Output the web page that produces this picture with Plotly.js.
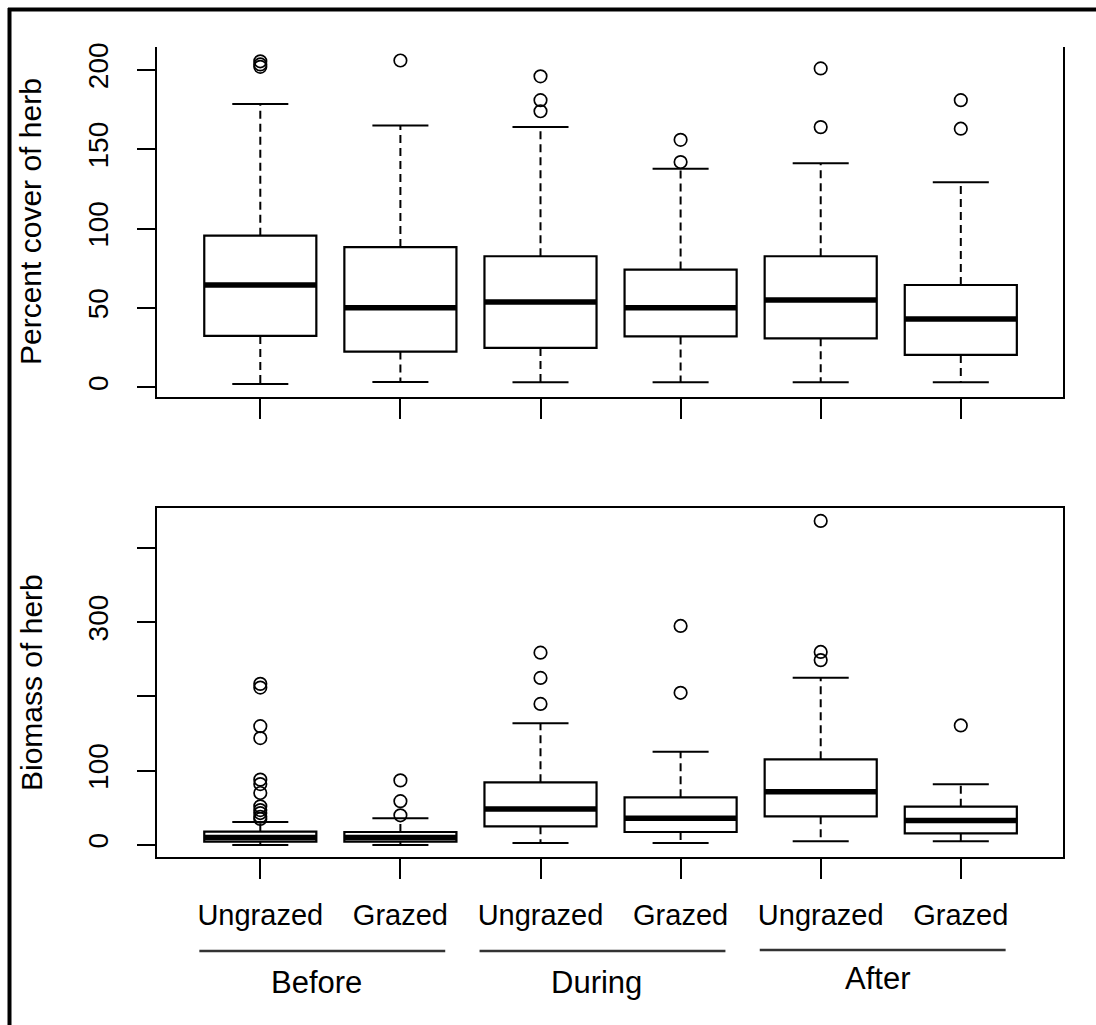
<!DOCTYPE html>
<html>
<head>
<meta charset="utf-8">
<script src="https://cdn.plot.ly/plotly-3.0.1.min.js"></script>
<style>
html, body { margin: 0; padding: 0; background: #ffffff; }
#chart { width: 1096px; height: 1025px; }
</style>
</head>
<body>
<div id="chart"></div>
<script>
// ---------- data ----------
const categories = ['Ungrazed', 'Grazed', 'Ungrazed', 'Grazed', 'Ungrazed', 'Grazed'];
const periods = ['Before', 'During', 'After'];
const positions = [1, 2, 3, 4, 5, 6];

// Percent cover of herb
const coverQ1 = [32.4, 22.5, 24.8, 32.1, 30.9, 20.4];
const coverMedian = [64.5, 50.2, 53.8, 50.2, 55.0, 43.1];
const coverQ3 = [95.6, 88.4, 82.6, 74.2, 82.6, 64.5];
const coverLower = [2.1, 3.4, 3.2, 3.2, 3.2, 3.2];
const coverUpper = [178.6, 165.1, 164.1, 137.8, 141.2, 129.2];
const coverOutliers = [[202, 203.5, 205.5], [206], [174, 181, 196], [142, 156], [164, 201], [163, 181]];

// Biomass of herb
const bioQ1 = [4.5, 4.5, 25.1, 17.5, 38.6, 15.7];
const bioMedian = [10, 10, 48.5, 35.9, 71.8, 32.8];
const bioQ3 = [18, 17.5, 84.4, 64.2, 115.4, 51.6];
const bioLower = [0, 0, 2.7, 2.7, 4.9, 4.9];
const bioUpper = [31, 36, 163.9, 125.7, 225.4, 81.7];
const bioOutliers = [[35, 38, 43, 47, 52, 70, 82, 88, 144, 160, 212, 217], [40, 59, 87], [190, 225, 259], [205, 295], [249, 260, 436.5], [161]];

const coverTicks = [0, 50, 100, 150, 200];
const coverTickText = ['0', '50', '100', '150', '200'];
const bioTicks = [0, 100, 200, 300, 400];
const bioTickText = ['0', '100', '', '300', ''];

// ---------- styling ----------
const W = 1096, H = 1025;
const FONT = 'Liberation Sans, Arial, sans-serif';
const BOX_W = 0.8, CAP_HALF = 0.2;

function boxTraces(q1, med, q3, lo, hi, outl, xa, ya) {
  const traces = [];
  const wx = [], wy = [];
  positions.forEach((p, i) => {
    wx.push(p, p, null, p, p, null);
    wy.push(q3[i], hi[i], null, q1[i], lo[i], null);
  });
  traces.push({type: 'scatter', mode: 'lines', x: wx, y: wy, xaxis: xa, yaxis: ya,
    line: {color: '#000', width: 2, dash: '8px,5px'}, hoverinfo: 'skip', showlegend: false});
  const cx = [], cy = [];
  positions.forEach((p, i) => {
    cx.push(p - CAP_HALF, p + CAP_HALF, null, p - CAP_HALF, p + CAP_HALF, null);
    cy.push(hi[i], hi[i], null, lo[i], lo[i], null);
  });
  traces.push({type: 'scatter', mode: 'lines', x: cx, y: cy, xaxis: xa, yaxis: ya,
    line: {color: '#000', width: 2}, hoverinfo: 'skip', showlegend: false});
  traces.push({type: 'box', x: positions, q1: q1, median: med, q3: q3,
    lowerfence: q1, upperfence: q3, xaxis: xa, yaxis: ya, width: BOX_W,
    boxpoints: false, fillcolor: 'rgba(255,255,255,0)', line: {color: '#000', width: 2.2},
    whiskerwidth: 0, showlegend: false});
  const mx = [], my = [];
  positions.forEach((p, i) => {
    mx.push(p - BOX_W / 2, p + BOX_W / 2, null);
    my.push(med[i], med[i], null);
  });
  traces.push({type: 'scatter', mode: 'lines', x: mx, y: my, xaxis: xa, yaxis: ya,
    line: {color: '#000', width: 5.5}, hoverinfo: 'skip', showlegend: false});
  const ox = [], oy = [];
  positions.forEach((p, i) => outl[i].forEach(v => { ox.push(p); oy.push(v); }));
  traces.push({type: 'scatter', mode: 'markers', x: ox, y: oy, xaxis: xa, yaxis: ya,
    marker: {symbol: 'circle-open', size: 12.5, color: '#000', line: {width: 1.7, color: '#000'}},
    hoverinfo: 'skip', showlegend: false});
  return traces;
}

const data = [].concat(
  boxTraces(coverQ1, coverMedian, coverQ3, coverLower, coverUpper, coverOutliers, 'x', 'y'),
  boxTraces(bioQ1, bioMedian, bioQ3, bioLower, bioUpper, bioOutliers, 'x2', 'y2')
);

const xRange = [0.2627, 6.7295];
const xDomain = [157 / W, 1063 / W];
const commonY = {
  showgrid: false, zeroline: false, showline: true, linecolor: '#000', linewidth: 2,
  ticks: 'outside', ticklen: 18, tickwidth: 2, tickcolor: '#000',
  tickangle: -90, tickfont: {family: FONT, size: 28, color: '#000'},
  ticklabelstandoff: 18, automargin: false, mirror: true
};

const shapes = [
  {type: 'line', xref: 'paper', yref: 'paper', x0: 8 / W, x1: 1, y0: 1 - 9.5 / H, y1: 1 - 9.5 / H, line: {color: '#000', width: 4}},
  {type: 'line', xref: 'paper', yref: 'paper', x0: 9.5 / W, x1: 9.5 / W, y0: 0, y1: 1 - 8 / H, line: {color: '#000', width: 4}}
];
const annotations = [
  {text: 'Percent cover of herb', xref: 'paper', yref: 'paper', x: 31 / W, y: 1 - 222 / H,
   textangle: -90, showarrow: false, xanchor: 'center', yanchor: 'middle', font: {family: FONT, size: 30, color: '#000'}},
  {text: 'Biomass of herb', xref: 'paper', yref: 'paper', x: 31 / W, y: 1 - 683 / H,
   textangle: -90, showarrow: false, xanchor: 'center', yanchor: 'middle', font: {family: FONT, size: 30, color: '#000'}}
];
const groupLineY = [951, 951, 950];
const groupLabelY = [982, 982, 978];
periods.forEach((name, g) => {
  const a = positions[2 * g] - 0.435, b = positions[2 * g + 1] + 0.32;
  shapes.push({type: 'line', xref: 'x2', yref: 'paper', x0: a, x1: b,
    y0: 1 - groupLineY[g] / H, y1: 1 - groupLineY[g] / H, line: {color: '#333', width: 2.5}});
  annotations.push({text: name, xref: 'x2', yref: 'paper', x: (a + b) / 2 - 0.04, y: 1 - groupLabelY[g] / H,
    showarrow: false, xanchor: 'center', yanchor: 'middle',
    font: {family: FONT, size: 31, color: '#000'}});
});

const layout = {
  width: W, height: H, autosize: false,
  margin: {l: 0, r: 0, t: 0, b: 0},
  paper_bgcolor: '#fff', plot_bgcolor: '#fff',
  showlegend: false,
  xaxis: {domain: xDomain, range: xRange, anchor: 'y', showgrid: false, zeroline: false,
    showline: true, linecolor: '#000', linewidth: 2, ticks: 'outside', ticklen: 20, tickwidth: 2, tickcolor: '#000',
    tickvals: positions, showticklabels: false, automargin: false},
  yaxis: Object.assign({}, commonY, {domain: [1 - 397 / H, 1 - 47 / H], range: [-6.1, 214.5], anchor: 'x',
    tickvals: coverTicks, ticktext: coverTickText}),
  xaxis2: {domain: xDomain, range: xRange, anchor: 'y2', showgrid: false, zeroline: false,
    showline: true, mirror: true, linecolor: '#000', linewidth: 2, ticks: 'outside', ticklen: 20, tickwidth: 2, tickcolor: '#000',
    tickvals: positions, ticktext: categories, tickfont: {family: FONT, size: 29, color: '#000'},
    ticklabelstandoff: 11, automargin: false},
  yaxis2: Object.assign({}, commonY, {domain: [1 - 857 / H, 1 - 508 / H], range: [-16.2, 453.9], anchor: 'x2',
    tickvals: bioTicks, ticktext: bioTickText}),
  shapes: shapes,
  annotations: annotations
};

Plotly.newPlot('chart', data, layout, {staticPlot: true, displayModeBar: false});
</script>
</body>
</html>
